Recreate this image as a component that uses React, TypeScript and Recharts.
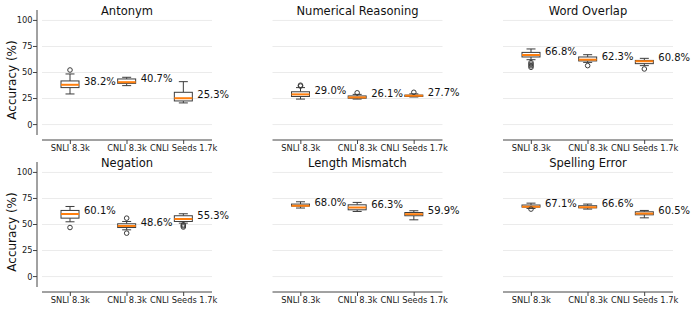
import React from 'react';
import { ComposedChart, Bar, XAxis, YAxis, CartesianGrid } from 'recharts';

const categories = ['SNLI 8.3k', 'CNLI 8.3k', 'CNLI Seeds 1.7k'];
const panelTitles = ['Antonym', 'Numerical Reasoning', 'Word Overlap', 'Negation', 'Length Mismatch', 'Spelling Error'];
const yTicks = [0, 25, 50, 75, 100];
const gridValues = [0, 12.5, 25, 37.5, 50, 62.5, 75, 87.5, 100];

// per panel: [SNLI, CNLI, Seeds]
const whiskerLow = [[29.4, 37.4, 20.8], [24.5, 24.5, 26.5], [62.3, 59.7, 56.6], [52.6, 44.9, 51.3], [65.8, 62.5, 54.5], [65.4, 64.8, 56.4]];
const q1 = [[35.5, 39.6, 22.7], [27.0, 25.3, 27.0], [64.9, 61.1, 58.5], [56.1, 47.1, 52.9], [67.7, 64.1, 58.4], [66.7, 66.0, 59.3]];
const medians = [[38.2, 40.7, 25.3], [29.0, 26.1, 27.7], [66.8, 62.3, 60.8], [60.1, 48.6, 55.3], [68.0, 66.3, 59.9], [67.1, 66.6, 60.5]];
const q3 = [[41.9, 43.8, 31.0], [31.5, 27.5, 28.3], [69.3, 64.9, 61.6], [63.5, 50.7, 58.4], [69.6, 68.9, 61.5], [68.7, 68.0, 62.2]];
const whiskerHigh = [[48.6, 45.4, 41.2], [35.5, 29.0, 29.5], [72.6, 67.1, 63.6], [67.3, 52.9, 60.3], [71.8, 71.2, 63.2], [70.5, 69.6, 63.5]];
const outliers = [
  [[52.4], [], []],
  [[37.0, 37.8], [30.5], [31.0]],
  [[59.5, 58.0, 56.5, 55.0], [56.6], [53.4]],
  [[47.1], [56.1, 41.7], [49.7, 48.7, 47.6]],
  [[], [], []],
  [[64.8], [], []],
];
const meanLabels = [[38.2, 40.7, 25.3], [29.0, 26.1, 27.7], [66.8, 62.3, 60.8], [60.1, 48.6, 55.3], [68.0, 66.3, 59.9], [67.1, 66.6, 60.5]];

const FONT = '"DejaVu Sans", sans-serif';
const EDGE = '#3c3c3c';
const MEDIAN = '#ff7f0e';

function BoxShape(props: any) {
  const { x, y, width, height, payload } = props;
  const { low, q1: b1, med, q3: b3, high, outs, label } = payload;
  const top = Math.min(y, y + height);
  const bot = Math.max(y, y + height);
  const span = high - low;
  const py = (v: number) => bot - ((v - low) / span) * (bot - top);
  const cx = x + width / 2;
  const cap = width / 4;
  return (
    <g>
      <line x1={cx} x2={cx} y1={py(high)} y2={py(b3)} stroke={EDGE} strokeWidth={1} />
      <line x1={cx} x2={cx} y1={py(b1)} y2={py(low)} stroke={EDGE} strokeWidth={1} />
      <line x1={cx - cap} x2={cx + cap} y1={py(high)} y2={py(high)} stroke={EDGE} strokeWidth={1} />
      <line x1={cx - cap} x2={cx + cap} y1={py(low)} y2={py(low)} stroke={EDGE} strokeWidth={1} />
      <rect x={x} y={py(b3)} width={width} height={py(b1) - py(b3)} fill="#ffffff" stroke={EDGE} strokeWidth={1} />
      <line x1={x} x2={x + width} y1={py(med)} y2={py(med)} stroke={MEDIAN} strokeWidth={2} />
      {outs.map((o: number, i: number) => (
        <circle key={i} cx={cx} cy={py(o)} r={2.3} fill="none" stroke={EDGE} strokeWidth={1} />
      ))}
      <text x={cx + 14} y={py(label)} fontSize={10} fill="#111" fontFamily={FONT}>
        {label.toFixed(1) + '%'}
      </text>
    </g>
  );
}

type PanelProps = { idx: number; left: number; top: number; width: number; ml: number; mr: number; showY: boolean };

function Panel({ idx, left, top, width, ml, mr, showY }: PanelProps) {
  const data = categories.map((name, i) => ({
    name,
    low: whiskerLow[idx][i],
    q1: q1[idx][i],
    med: medians[idx][i],
    q3: q3[idx][i],
    high: whiskerHigh[idx][i],
    outs: outliers[idx][i],
    label: meanLabels[idx][i],
  }));
  return (
    <div style={{ position: 'absolute', left, top }}>
      <ComposedChart width={width} height={155} data={data} margin={{ top: 10, right: mr, bottom: 0, left: ml }}>
        <CartesianGrid vertical={false} horizontalValues={gridValues} stroke="#ebebeb" strokeWidth={1} />
        <XAxis
          dataKey="name"
          type="category"
          height={20}
          interval={0}
          tickSize={4}
          tickMargin={6}
          tick={{ fontSize: 8.3, fill: '#222', fontFamily: FONT }}
          axisLine={{ stroke: '#444', transform: 'translate(0,5)' }}
          tickLine={{ stroke: '#444', transform: 'translate(0,5)' }}
        />
        <YAxis
          type="number"
          domain={[-10, 110]}
          ticks={yTicks}
          hide={!showY}
          width={42}
          tickSize={4}
          tickMargin={5.5}
          tick={{ fontSize: 8.3, fill: '#222', fontFamily: FONT }}
          axisLine={{ stroke: '#444', transform: 'translate(-5,0)' }}
          tickLine={{ stroke: '#444', transform: 'translate(-5,0)' }}
        />
        <Bar dataKey={(d: any) => [d.low, d.high]} barSize={18} shape={BoxShape} isAnimationActive={false} />
      </ComposedChart>
    </div>
  );
}

const panelLayout = [
  { left: 0, width: 232, ml: 0, mr: 20, cx: 127 },
  { left: 232, width: 232, ml: 40.5, mr: 21.5, cx: 357.5 },
  { left: 464, width: 234, ml: 39, mr: 25, cx: 588 },
];
const rowTops = [0, 152];

export default function App() {
  return (
    <div style={{ position: 'absolute', left: 0, top: 0, width: 698, height: 310, background: '#fff', overflow: 'hidden' }}>
      {rowTops.map((rt, r) =>
        panelLayout.map((p, c) => (
          <Panel
            key={r * 3 + c}
            idx={r * 3 + c}
            left={p.left}
            top={rt}
            width={p.width}
            ml={p.ml}
            mr={p.mr}
            showY={c === 0}
          />
        ))
      )}
      <svg width={698} height={310} style={{ position: 'absolute', left: 0, top: 0, pointerEvents: 'none' }}>
        {rowTops.map((rt, r) =>
          panelLayout.map((p, c) => (
            <text key={r * 3 + c} x={p.cx} y={rt + 15} textAnchor="middle" fontSize={11.5} fill="#111" fontFamily={FONT}>
              {panelTitles[r * 3 + c]}
            </text>
          ))
        )}
        {rowTops.map((rt, r) => (
          <text
            key={'yl' + r}
            x={0}
            y={0}
            transform={`translate(15.5,${rt + 80}) rotate(-90)`}
            textAnchor="middle"
            fontSize={12}
            fill="#111"
            fontFamily={FONT}
          >
            Accuracy (%)
          </text>
        ))}
      </svg>
    </div>
  );
}
